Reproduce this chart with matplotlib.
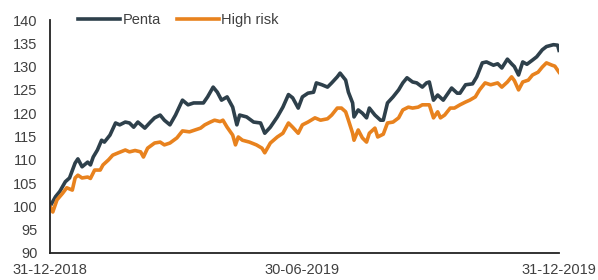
import pandas as pd
import matplotlib
matplotlib.use('Agg')
import matplotlib.pyplot as plt
import matplotlib.dates as mdates

# days after 31-12-2018 and index levels
penta_days = [0, 4, 7, 11, 14, 18, 20, 23, 27, 29, 31, 34, 37, 39, 43, 47, 50, 54, 57, 60,
              63, 68, 72, 75, 79, 82, 86, 90, 95, 99, 103, 110, 113, 117, 120, 123, 127, 131,
              134, 136, 141, 146, 151, 154, 158, 163, 167, 171, 174, 178, 181, 185, 189, 191,
              195, 199, 202, 206, 208, 212, 214, 217, 218, 221, 224, 227, 229, 233, 237, 239,
              242, 246, 250, 253, 256, 260, 263, 267, 270, 272, 275, 278, 282, 288, 292, 294,
              298, 303, 306, 310, 313, 318, 321, 324, 328, 331, 333, 336, 339, 342, 346, 349,
              353, 356, 361, 364, 365]
penta = [100.0, 102.1, 103.2, 105.3, 106.1, 109.3, 110.2, 108.5, 109.5, 108.9, 110.6, 112.1,
         114.2, 113.8, 115.3, 117.9, 117.5, 118.1, 117.9, 117.0, 118.1, 116.8, 118.1, 119.0,
         119.6, 118.5, 117.5, 119.6, 122.8, 121.8, 122.2, 122.2, 123.5, 125.6, 124.5, 122.8,
         123.5, 121.3, 117.5, 119.6, 119.2, 118.1, 117.9, 115.7, 117.0, 119.2, 121.3, 124.0,
         123.3, 121.1, 123.5, 124.3, 124.5, 126.5, 126.1, 125.6, 126.5, 127.8, 128.6, 127.1,
         124.5, 122.2, 119.2, 120.7, 120.0, 119.0, 121.1, 119.6, 118.5, 118.5, 122.2, 123.5,
         125.0, 126.5, 127.6, 126.7, 126.5, 125.6, 126.5, 126.7, 122.8, 123.9, 122.8, 125.4,
         124.3, 124.3, 126.1, 126.3, 127.8, 130.8, 131.0, 130.3, 130.6, 129.7, 131.6, 130.6,
         130.0, 128.2, 131.0, 130.5, 131.4, 132.1, 133.6, 134.3, 134.7, 134.6, 133.5]

risk_days = [0, 2, 5, 9, 12, 16, 18, 20, 23, 27, 29, 32, 36, 38, 42, 45, 49, 54, 57, 61,
             65, 67, 70, 75, 79, 82, 86, 91, 95, 100, 108, 111, 115, 118, 122, 124, 127, 131,
             133, 135, 138, 143, 148, 152, 154, 158, 163, 167, 171, 174, 178, 181, 185, 190,
             194, 199, 202, 206, 209, 212, 214, 217, 218, 221, 224, 227, 229, 233, 235, 239,
             242, 246, 250, 253, 257, 260, 264, 267, 272, 275, 278, 280, 283, 287, 290, 294,
             298, 301, 305, 308, 312, 316, 321, 324, 328, 331, 333, 336, 339, 343, 346, 350,
             353, 356, 360, 362, 365]
high_risk = [100.0, 98.8, 101.4, 102.8, 104.0, 103.5, 106.1, 106.7, 106.1, 106.3, 106.0, 107.8,
             107.8, 108.9, 110.0, 111.0, 111.5, 112.1, 111.7, 112.0, 111.7, 110.6, 112.5, 113.6,
             113.8, 113.2, 113.6, 114.7, 116.2, 116.0, 116.8, 117.5, 118.1, 118.5, 118.2, 118.5,
             117.0, 115.3, 113.2, 114.9, 114.2, 113.8, 113.2, 112.5, 111.5, 113.6, 114.9, 115.7,
             117.9, 117.0, 115.7, 117.5, 118.1, 119.0, 118.5, 118.8, 119.6, 121.1, 121.1, 120.3,
             118.5, 115.7, 114.2, 116.4, 114.7, 113.8, 115.7, 116.8, 114.9, 115.5, 117.9, 118.1,
             119.0, 120.7, 121.3, 121.1, 121.3, 121.8, 121.8, 119.0, 120.3, 119.0, 119.6, 121.1,
             121.1, 121.8, 122.4, 122.8, 123.5, 125.0, 126.5, 126.1, 126.5, 125.6, 126.7, 127.8,
             127.0, 125.0, 126.7, 127.1, 128.2, 128.8, 129.9, 130.8, 130.3, 130.1, 128.8]

start = pd.Timestamp('2018-12-31')
penta_dates = start + pd.to_timedelta(penta_days, unit='D')
risk_dates = start + pd.to_timedelta(risk_days, unit='D')

plt.rcParams['font.family'] = ['Liberation Sans', 'DejaVu Sans']

fig = plt.figure(figsize=(5.98, 2.8), dpi=100)
ax = fig.add_axes([50 / 598, 27 / 280, 509 / 598, 233 / 280])

ax.plot(penta_dates, penta, color='#2e404b', lw=2.6, label='Penta', solid_joinstyle='round')
ax.plot(risk_dates, high_risk, color='#e8821e', lw=2.6, label='High risk', solid_joinstyle='round')

ax.set_ylim(90, 140)
ax.set_yticks(range(90, 141, 5))
ax.set_xlim(start, pd.Timestamp('2019-12-31'))
ax.set_xticks([start, pd.Timestamp('2019-06-30'), pd.Timestamp('2019-12-31')])
ax.xaxis.set_major_formatter(mdates.DateFormatter('%d-%m-%Y'))

for s in ['top', 'right']:
    ax.spines[s].set_visible(False)
for s in ['left', 'bottom']:
    ax.spines[s].set_color('#222222')
    ax.spines[s].set_linewidth(1.3)
ax.tick_params(length=0, labelsize=10.5, colors='#404040')
ax.tick_params(axis='y', pad=9)
ax.tick_params(axis='x', pad=7)

fig.legend(loc='center left', bbox_to_anchor=(78 / 598, 1 - 20 / 280), ncol=2, frameon=False,
           fontsize=10.5, handlelength=2.9, handletextpad=0.15, columnspacing=1.1,
           borderpad=0, borderaxespad=0, labelcolor='#404040')

fig.savefig('out.png', dpi=100)
